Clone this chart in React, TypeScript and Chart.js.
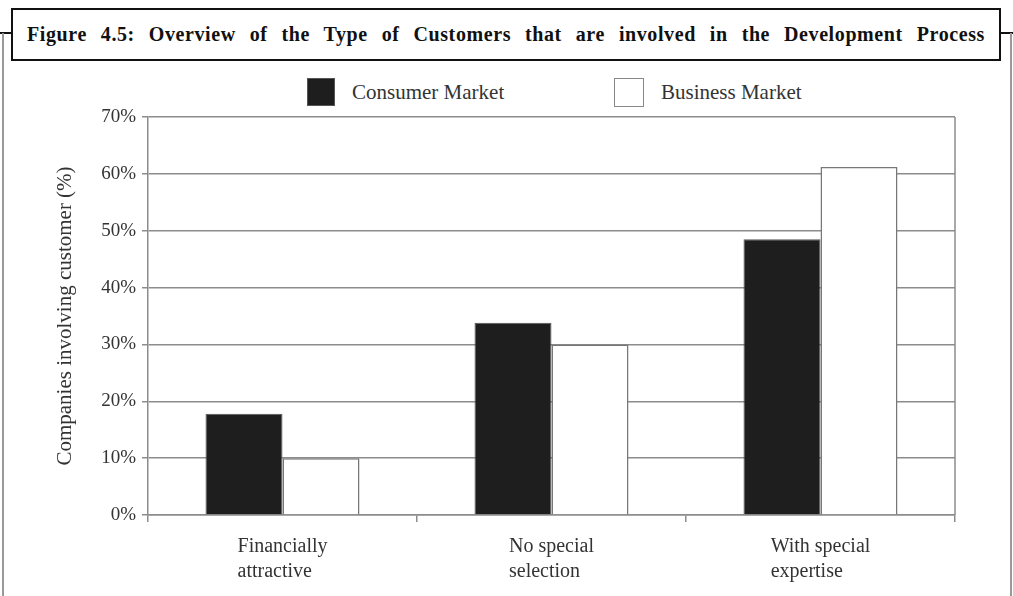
import React, { useEffect, useRef } from "react";
import { Chart, registerables } from "chart.js";

Chart.register(...registerables);

const titleText =
  "Figure 4.5: Overview of the Type of Customers that are involved in the Development Process";
const categories = ["Financially attractive", "No special selection", "With special expertise"];
const categoryLines = [
  ["Financially", "attractive"],
  ["No special", "selection"],
  ["With special", "expertise"],
];
const seriesNames = ["Consumer Market", "Business Market"];
const consumerValues = [17.8, 33.8, 48.5];
const businessValues = [10, 30, 61.2];
const yMin = 0;
const yMax = 70;
const yStep = 10;
const yTitle = "Companies involving customer (%)";

const FONT = '"Liberation Serif", "Times New Roman", serif';
const GRID = "#8c8c8c";

export default function App() {
  const ref = useRef<HTMLCanvasElement | null>(null);

  useEffect(() => {
    if (!ref.current) return;
    const xLabelPlugin = {
      id: "xLabels",
      afterDraw(chart: any) {
        const { ctx, chartArea } = chart;
        const xs = chart.scales.x;
        ctx.save();
        ctx.font = `20px ${FONT}`;
        ctx.fillStyle = "#333";
        ctx.textAlign = "left";
        ctx.textBaseline = "alphabetic";
        categoryLines.forEach((lines, i) => {
          const cx = xs.getPixelForValue(i);
          const w = Math.max(...lines.map((l) => ctx.measureText(l).width));
          lines.forEach((l, j) => {
            ctx.fillText(l, cx - w / 2, chartArea.bottom + 37 + j * 25);
          });
        });
        ctx.restore();
      },
    };
    const borderPlugin = {
      id: "rightBorder",
      afterDatasetsDraw(chart: any) {
        const { ctx, chartArea } = chart;
        ctx.save();
        ctx.strokeStyle = GRID;
        ctx.lineWidth = 1.5;
        ctx.beginPath();
        ctx.moveTo(chartArea.right, chartArea.top);
        ctx.lineTo(chartArea.right, chartArea.bottom);
        ctx.stroke();
        ctx.restore();
      },
    };
    const chart = new Chart(ref.current, {
      type: "bar",
      data: {
        labels: categories,
        datasets: [
          {
            label: seriesNames[0],
            data: consumerValues,
            backgroundColor: "#1e1e1e",
            borderColor: "#555",
            borderWidth: 1,
            categoryPercentage: 0.5725,
            barPercentage: 1,
          },
          {
            label: seriesNames[1],
            data: businessValues,
            backgroundColor: "#ffffff",
            borderColor: "#777",
            borderWidth: 1.5,
            categoryPercentage: 0.5725,
            barPercentage: 1,
          },
        ],
      },
      options: {
        animation: false,
        responsive: false,
        devicePixelRatio: 1,
        layout: { padding: { top: 57, right: 58, left: 0, bottom: 0 } },
        plugins: {
          legend: { display: false },
          tooltip: { enabled: false },
          title: { display: false },
        },
        scales: {
          x: {
            offset: true,
            ticks: { display: false },
            grid: {
              offset: true,
              drawOnChartArea: false,
              drawTicks: true,
              tickLength: 7,
              color: GRID,
              lineWidth: 1.5,
            },
            border: { display: true, color: GRID, width: 1.5 },
            afterFit: (s: any) => {
              s.height = 81;
            },
          },
          y: {
            min: yMin,
            max: yMax,
            ticks: {
              stepSize: yStep,
              callback: (v: any) => `${v}%`,
              font: { family: FONT, size: 19 },
              color: "#333",
              padding: 6,
            },
            grid: { color: GRID, lineWidth: 1.5, tickLength: 6 },
            border: { display: true, color: GRID, width: 1.5 },
            title: {
              display: true,
              text: yTitle,
              font: { family: FONT, size: 21 },
              color: "#333",
              padding: { top: 53, bottom: 0 },
            },
            afterFit: (s: any) => {
              s.width = 148;
            },
          },
        },
      },
      plugins: [xLabelPlugin, borderPlugin],
    });
    return () => chart.destroy();
  }, []);

  const abs = (o: React.CSSProperties): React.CSSProperties => ({ position: "absolute", ...o });

  return (
    <div
      style={{
        position: "fixed",
        left: 0,
        top: 0,
        width: 1013,
        height: 596,
        background: "#fff",
        overflow: "hidden",
        fontFamily: FONT,
      }}
    >
      <div style={abs({ left: 0, top: 32, width: 12, height: 2, background: "#111" })} />
      <div style={abs({ left: 2, top: 33, width: 1.5, height: 563, background: "#999" })} />
      <div style={abs({ left: 999, top: 32, width: 14, height: 2, background: "#111" })} />
      <div style={abs({ left: 1010, top: 33, width: 1.5, height: 563, background: "#999" })} />
      <div
        style={abs({
          left: 11,
          top: 8,
          width: 990,
          height: 53,
          boxSizing: "border-box",
          border: "2.5px solid #111",
          padding: "0 14px",
          display: "flex",
          alignItems: "center",
          background: "#fff",
        })}
      >
        <div
          style={{
            width: "100%",
            textAlign: "justify",
            textAlignLast: "justify",
            fontWeight: "bold",
            fontSize: 20,
            letterSpacing: "0.6px",
            color: "#111",
            whiteSpace: "normal",
          }}
        >
          {titleText}
        </div>
      </div>
      <div
        style={abs({
          left: 307,
          top: 78,
          width: 28,
          height: 28,
          boxSizing: "border-box",
          background: "#1e1e1e",
          border: "1px solid #555",
        })}
      />
      <div style={abs({ left: 352, top: 78, height: 28, lineHeight: "28px", fontSize: 21, color: "#333" })}>
        {seriesNames[0]}
      </div>
      <div
        style={abs({
          left: 614,
          top: 78,
          width: 30,
          height: 29,
          boxSizing: "border-box",
          background: "#fff",
          border: "1.5px solid #888",
        })}
      />
      <div style={abs({ left: 661, top: 78, height: 28, lineHeight: "28px", fontSize: 21, color: "#333" })}>
        {seriesNames[1]}
      </div>
      <canvas ref={ref} width={1013} height={536} style={abs({ left: 0, top: 60, width: 1013, height: 536 })} />
    </div>
  );
}
